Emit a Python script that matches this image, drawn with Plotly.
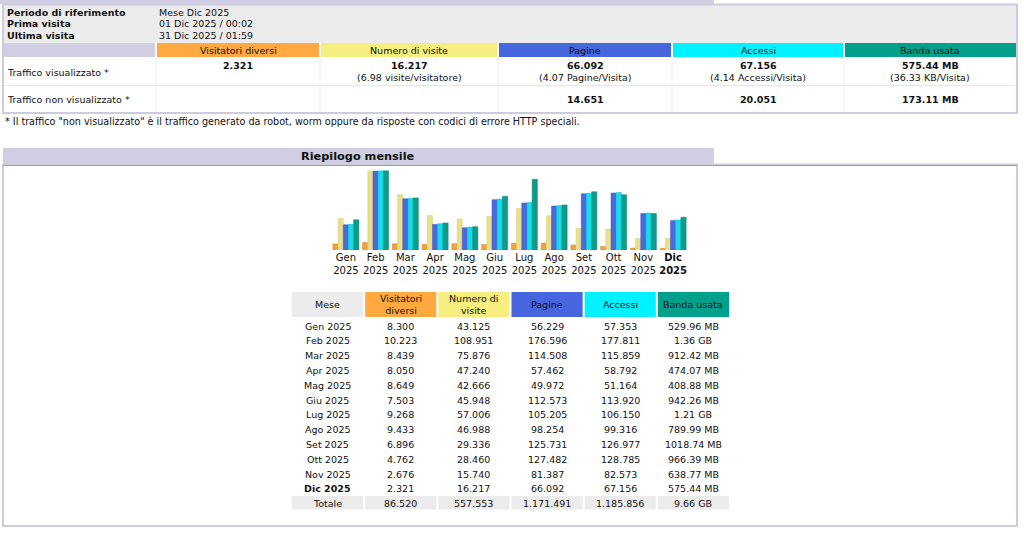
import plotly.graph_objects as go

# ---------------- data ----------------
months = ["Gen", "Feb", "Mar", "Apr", "Mag", "Giu", "Lug", "Ago", "Set", "Ott", "Nov", "Dic"]
year = "2025"
visitors = [8300, 10223, 8439, 8050, 8649, 7503, 9268, 9433, 6896, 4762, 2676, 2321]
visits = [43125, 108951, 75876, 47240, 42666, 45948, 57006, 46988, 29336, 28460, 15740, 16217]
pages = [56229, 176596, 114508, 57462, 49972, 112573, 105205, 98254, 125731, 127482, 81387, 66092]
hits = [57353, 177811, 115859, 58792, 51164, 113920, 106150, 99316, 126977, 128785, 82573, 67156]
bandwidth_mb = [529.96, 1392.64, 912.42, 474.07, 408.88, 942.26, 1239.04, 789.99, 1018.74, 966.39, 638.77, 575.44]
bandwidth_lbl = ["529.96 MB", "1.36 GB", "912.42 MB", "474.07 MB", "408.88 MB", "942.26 MB",
                 "1.21 GB", "789.99 MB", "1018.74 MB", "966.39 MB", "638.77 MB", "575.44 MB"]
bandwidth_total = "9.66 GB"

info_labels = ["Periodo di riferimento", "Prima visita", "Ultima visita"]
info_values = ["Mese Dic 2025", "01 Dic 2025 / 00:02", "31 Dic 2025 / 01:59"]

col_names = ["Visitatori diversi", "Numero di visite", "Pagine", "Accessi", "Banda usata"]
month_headers = ["Mese", "Visitatori<br>diversi", "Numero di<br>visite", "Pagine", "Accessi", "Banda usata"]
traffic_labels = ["Traffico visualizzato *", "Traffico non visualizzato *"]
viewed_main = ["2.321", "16.217", "66.092", "67.156", "575.44 MB"]
viewed_sub = ["", "(6.98 visite/visitatore)", "(4.07 Pagine/Visita)", "(4.14 Accessi/Visita)", "(36.33 KB/Visita)"]
notviewed = ["", "", "14.651", "20.051", "173.11 MB"]
footnote = '* Il traffico "non visualizzato" è il traffico generato da robot, worm oppure da risposte con codici di errore HTTP speciali.'
section_title = "Riepilogo mensile"
total_label = "Totale"

# ---------------- style ----------------
FONT = "DejaVu Sans"
FS = 9.5
TXT = "#111111"
C_U, C_V, C_P, C_H, C_K = "#FFA940", "#F6EF80", "#4766DD", "#00F1FF", "#00A08C"
B_U, B_V, B_P, B_H, B_K = "#EFA23E", "#E9E08E", "#4C68DA", "#14DDEC", "#0E9C88"
L_U, L_V, L_P, L_H, L_K = "#D08A30", "#D6CC78", "#3A56C4", "#0CC2D0", "#0A8674"
LAV = "#CFCEE2"
GREY = "#ECECEC"
W, H = 1024, 536

def fmt(v):
    return f"{v:,}".replace(",", ".")

fig = go.Figure()

# ---------------- monthly bars ----------------
xs = list(range(len(months)))
bw = 0.175
series = [
    (visitors, B_U, L_U, "y"),
    (visits, B_V, L_V, "y"),
    (pages, B_P, L_P, "y2"),
    (hits, B_H, L_H, "y2"),
    (bandwidth_mb, B_K, L_K, "y3"),
]
for k, (vals, col, lcol, ax) in enumerate(series):
    fig.add_trace(go.Bar(x=xs, y=vals, xaxis="x", yaxis=ax, width=bw, offset=-0.4375 + k * bw,
                         marker=dict(color=col, line=dict(width=0.5, color=lcol)), showlegend=False,
                         hoverinfo="skip"))

ticktext = [f"{m}<br>{year}" for m in months]
ticktext[-1] = f"<b>{months[-1]}<br>{year}</b>"

# page-coordinate axis used for the tables / frame (pixel units, y downward)
fig.add_trace(go.Scatter(x=[0, W], y=[0, H], xaxis="x2", yaxis="y4", mode="markers",
                         marker=dict(opacity=0), showlegend=False, hoverinfo="skip"))

ydom = [1 - 250 / H, 1 - 170.5 / H]
hidden = dict(visible=False, domain=ydom, fixedrange=True)
fig.update_layout(
    xaxis=dict(domain=[331 / W, 688 / W], range=[-0.5, 11.5], tickvals=xs, ticktext=ticktext,
               showgrid=False, zeroline=False, showline=False, ticks="",
               tickfont=dict(family=FONT, size=10, color=TXT), anchor="y", fixedrange=True),
    yaxis=dict(range=[0, max(max(visitors), max(visits))], anchor="x", **hidden),
    yaxis2=dict(range=[0, max(max(pages), max(hits))], overlaying="y", anchor="x", **hidden),
    yaxis3=dict(range=[0, max(bandwidth_mb)], overlaying="y", anchor="x", **hidden),
    xaxis2=dict(domain=[0, 1], range=[0, W], visible=False, anchor="y4", fixedrange=True),
    yaxis4=dict(domain=[0, 1], range=[H, 0], visible=False, anchor="x2", fixedrange=True),
)

shapes, ann = [], []

def rect(x0, y0, x1, y1, fill=None, line=None, lw=0, layer="below"):
    d = dict(type="rect", xref="x2", yref="y4", x0=x0, x1=x1, y0=y0, y1=y1, layer=layer,
             line=dict(width=lw, color=line or "rgba(0,0,0,0)"))
    if fill:
        d["fillcolor"] = fill
    shapes.append(d)

def hline(x0, x1, y, color, lw=1):
    shapes.append(dict(type="line", xref="x2", yref="y4", x0=x0, x1=x1, y0=y, y1=y,
                       line=dict(color=color, width=lw), layer="below"))

def vline(x, y0, y1, color, lw=1):
    shapes.append(dict(type="line", xref="x2", yref="y4", x0=x, x1=x, y0=y0, y1=y1,
                       line=dict(color=color, width=lw), layer="below"))

def text(x, y, t, size=FS, bold=False, anchor="left", color=TXT):
    ann.append(dict(x=x, y=y, xref="x2", yref="y4", text=(f"<b>{t}</b>" if bold else t),
                    showarrow=False, xanchor=anchor, yanchor="middle",
                    font=dict(family=FONT, size=size, color=color)))

# ---------------- top section ----------------
rect(0, 0, 714, 4, fill=LAV)
rect(4, 5, 1016, 43, fill=GREY)
for i, (lab, val) in enumerate(zip(info_labels, info_values)):
    yy = 12 + i * 11.6
    text(5, yy, lab, bold=True)
    text(157, yy, val)

top_edges = [4, 156, 320, 498, 672, 844, 1016]
hdr_fill = [LAV, C_U, C_V, C_P, C_H, C_K]
for i, f in enumerate(hdr_fill):
    x0 = top_edges[i] + (0 if i == 0 else 1)
    x1 = top_edges[i + 1] - (0 if i == len(hdr_fill) - 1 else 1)
    rect(x0, 43, x1, 57, fill=f)
for i, name in enumerate(col_names):
    cx = (top_edges[i + 1] + top_edges[i + 2]) / 2
    text(cx, 50.5, name, anchor="center")
    text(cx, 65, viewed_main[i], bold=True, anchor="center")
    if viewed_sub[i]:
        text(cx, 77, viewed_sub[i], anchor="center")
    if notviewed[i]:
        text(cx, 99, notviewed[i], bold=True, anchor="center")
hline(4, 1016, 85.5, "#E6E6E6")
for e in top_edges[1:-1]:
    vline(e, 57, 112, "#EDEDED")
text(5, 72, traffic_labels[0])
text(5, 99, traffic_labels[1])
rect(3, 4.5, 1017, 113, line="#CCCCDD", lw=2)

text(3, 121, footnote, size=9.6)

# ---------------- monthly section frame ----------------
rect(3, 148, 714, 164, fill=LAV)
rect(3, 164.5, 1017, 526, line="#CCCCDD", lw=2)
hline(3, 1017, 165.5, "#9C9CAC")
text(358, 156.5, section_title, size=11.3, bold=True, anchor="center")

# ---------------- monthly table ----------------
tx0, tx1 = 291, 730
cw = (tx1 - tx0) / 6
edges = [tx0 + cw * i for i in range(7)]
mese_col = [f"{m} {year}" for m in months]
cols = [
    [fmt(v) for v in visitors] + [fmt(sum(visitors))],
    [fmt(v) for v in visits] + [fmt(sum(visits))],
    [fmt(v) for v in pages] + [fmt(sum(pages))],
    [fmt(v) for v in hits] + [fmt(sum(hits))],
    bandwidth_lbl + [bandwidth_total],
]
cols = [mese_col + [total_label]] + cols
head_fill = [GREY, C_U, C_V, C_P, C_H, C_K]
hy0, hy1 = 292, 317
row0, rowh = 326, 14.8
tot_y = row0 + rowh * len(months) - 0.5
for j in range(6):
    x0, x1 = edges[j] + 1, edges[j + 1] - 1
    cx = (edges[j] + edges[j + 1]) / 2
    rect(x0, hy0, x1, hy1, fill=head_fill[j])
    text(cx, (hy0 + hy1) / 2, month_headers[j], anchor="center")
    rect(x0, tot_y - 7, x1, tot_y + 6.5, fill=GREY)
    for i in range(len(months)):
        is_last = (i == len(months) - 1) and j == 0
        text(cx, row0 + rowh * i, cols[j][i], bold=is_last, anchor="center")
    text(cx, tot_y, cols[j][-1], anchor="center")

fig.update_layout(
    width=W, height=H, margin=dict(l=0, r=0, t=0, b=0),
    paper_bgcolor="white", plot_bgcolor="rgba(0,0,0,0)",
    barmode="overlay", shapes=shapes, annotations=ann,
    font=dict(family=FONT, size=FS, color=TXT),
)

fig.write_html("out.html", config={"displayModeBar": False, "staticPlot": True},
               post_script="document.body.style.margin='0';document.body.style.overflow='hidden';")
